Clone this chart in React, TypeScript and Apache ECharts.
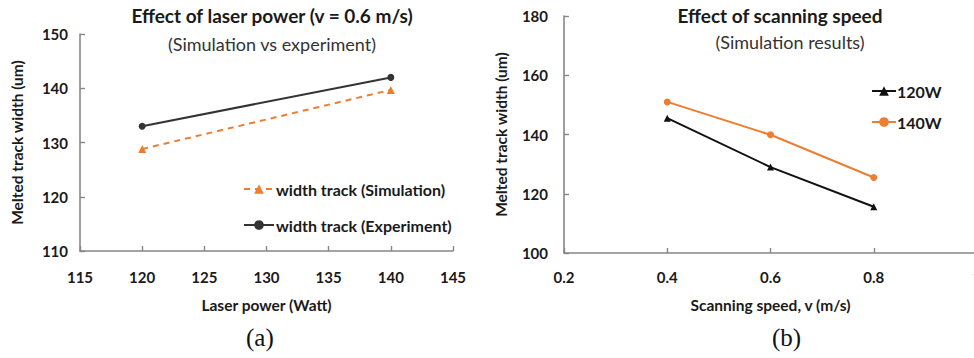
import React, { useEffect, useRef } from "react";
import * as echarts from "echarts";

// (a) laser power sweep at v = 0.6 m/s
const powerX = [120, 140];
const simWidth = [128.8, 139.7];
const expWidth = [133, 142];

// (b) scanning speed sweep
const speedX = [0.4, 0.6, 0.8];
const w120 = [145.5, 129, 115.6];
const w140 = [151, 139.9, 125.5];

const ORANGE = "#ED7D31";
const DARK = "#333333";
const AXIS = "#878787";
const FONT = "Lato, 'Open Sans', sans-serif";

const pairs = (xs: number[], ys: number[]) => xs.map((x, i) => [x, ys[i]]);

export default function App() {
  const ref = useRef<HTMLDivElement>(null);

  useEffect(() => {
    if (!ref.current) return;
    const chart = echarts.init(ref.current, undefined, { renderer: "svg" });

    const axisCommon = {
      axisLine: { lineStyle: { color: AXIS, width: 1.6 } },
      axisTick: { inside: true, length: 5, lineStyle: { color: AXIS, width: 1.4 } },
      splitLine: { show: false },
      axisLabel: { color: "#1a1a1a", fontFamily: FONT, fontWeight: "bold", fontSize: 15 },
      nameTextStyle: { color: "#1a1a1a", fontFamily: FONT, fontWeight: "bold", fontSize: 15.5 },
    };

    chart.setOption({
      animation: false,
      textStyle: { fontFamily: FONT },
      title: [
        {
          text: "Effect of laser power (v = 0.6 m/s)",
          left: 267, top: 1, textAlign: "center",
          textStyle: { fontFamily: FONT, fontWeight: "bold", fontSize: 19, color: "#1a1a1a" },
        },
        {
          text: "(Simulation vs experiment)",
          left: 267, top: 30, textAlign: "center",
          textStyle: { fontFamily: FONT, fontWeight: "normal", fontSize: 18, color: "#333" },
        },
        {
          text: "Effect of scanning speed",
          left: 775, top: 1, textAlign: "center",
          textStyle: { fontFamily: FONT, fontWeight: "bold", fontSize: 19, color: "#1a1a1a" },
        },
        {
          text: "(Simulation results)",
          left: 785, top: 28, textAlign: "center",
          textStyle: { fontFamily: FONT, fontWeight: "normal", fontSize: 18, color: "#333" },
        },
      ],
      legend: [
        {
          orient: "vertical",
          left: 238, top: 176,
          itemWidth: 30, itemHeight: 12, itemGap: 20,
          data: ["width track (Simulation)", "width track (Experiment)"],
          textStyle: { fontFamily: FONT, fontWeight: "bold", fontSize: 16, color: "#1a1a1a", padding: [0, 0, 0, -3] },
        },
        {
          orient: "vertical",
          left: 866, top: 78,
          itemWidth: 24, itemHeight: 12, itemGap: 15,
          data: ["120W", "140W"],
          textStyle: { fontFamily: FONT, fontWeight: "bold", fontSize: 16, color: "#1a1a1a", padding: [0, 0, 0, -4] },
        },
      ],
      grid: [
        { left: 80, top: 34, width: 373, height: 217 },
        { left: 564, top: 16, width: 413, height: 237 },
      ],
      xAxis: [
        {
          ...axisCommon, gridIndex: 0, type: "value", min: 115, max: 145, interval: 5,
          axisLabel: { ...axisCommon.axisLabel, margin: 18 },
          name: "Laser power (Watt)", nameLocation: "middle", nameGap: 46,
        },
        {
          ...axisCommon, gridIndex: 1, type: "value", min: 0.2, max: 1.0, interval: 0.2,
          axisLabel: { ...axisCommon.axisLabel, margin: 16, formatter: (v: number) => String(Math.round(v * 10) / 10) },
          name: "Scanning speed, v (m/s)", nameLocation: "middle", nameGap: 44,
        },
      ],
      yAxis: [
        {
          ...axisCommon, gridIndex: 0, type: "value", min: 110, max: 150, interval: 10,
          axisLabel: { ...axisCommon.axisLabel, margin: 12 },
          name: "Melted track width (um)", nameLocation: "middle", nameGap: 55,
        },
        {
          ...axisCommon, gridIndex: 1, type: "value", min: 100, max: 180, interval: 20,
          axisLabel: { ...axisCommon.axisLabel, margin: 16 },
          name: "Melted track width (um)", nameLocation: "middle", nameGap: 55,
        },
      ],
      series: [
        {
          name: "width track (Simulation)", type: "line", xAxisIndex: 0, yAxisIndex: 0,
          data: pairs(powerX, simWidth),
          symbol: "triangle", symbolSize: 8,
          lineStyle: { color: ORANGE, width: 2, type: [6, 5] },
          itemStyle: { color: ORANGE },
        },
        {
          name: "width track (Experiment)", type: "line", xAxisIndex: 0, yAxisIndex: 0,
          data: pairs(powerX, expWidth),
          symbol: "circle", symbolSize: 7,
          lineStyle: { color: DARK, width: 2 },
          itemStyle: { color: DARK },
        },
        {
          name: "120W", type: "line", xAxisIndex: 1, yAxisIndex: 1,
          data: pairs(speedX, w120),
          symbol: "triangle", symbolSize: 7,
          lineStyle: { color: "#111", width: 2 },
          itemStyle: { color: "#111" },
        },
        {
          name: "140W", type: "line", xAxisIndex: 1, yAxisIndex: 1,
          data: pairs(speedX, w140),
          symbol: "circle", symbolSize: 7,
          lineStyle: { color: ORANGE, width: 2 },
          itemStyle: { color: ORANGE },
        },
      ],
      graphic: [
        {
          type: "text", left: 246, top: 325,
          style: { text: "(a)", font: "25px 'Liberation Serif', serif", fill: "#111" },
        },
        {
          type: "text", left: 772, top: 325,
          style: { text: "(b)", font: "25px 'Liberation Serif', serif", fill: "#111" },
        },
      ],
    });

    return () => chart.dispose();
  }, []);

  // The right-hand axis runs a little past the page edge, so the chart is
  // drawn wider than its frame and the frame clips it.
  return (
    <div style={{ position: "absolute", left: 0, top: 0, width: 974, height: 358, overflow: "hidden" }}>
      <div ref={ref} style={{ width: 992, height: 358 }} />
    </div>
  );
}
